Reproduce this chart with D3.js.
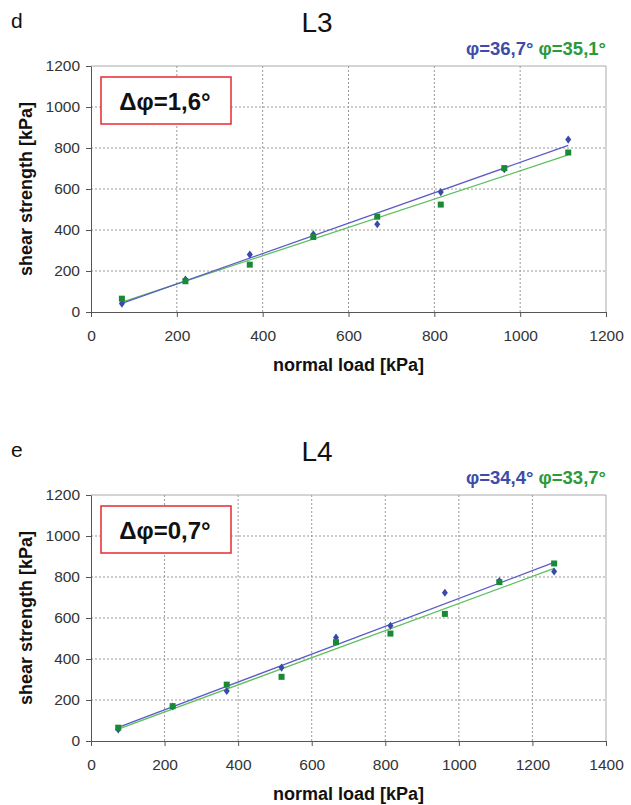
<!DOCTYPE html>
<html>
<head>
<meta charset="utf-8">
<script src="https://cdn.jsdelivr.net/npm/d3@7"></script>
<style>
  body { margin: 0; background: #fff; }
  svg { display: block; font-family: Arial, "Liberation Sans", sans-serif; }
</style>
</head>
<body>
<svg width="631" height="805"></svg>
<script>
(function () {
    'use strict';

    // L3 data
    const l3Load = [72, 220, 370, 518, 667, 815, 963, 1112];
    const l3Blue = [41, 158, 280, 379, 428, 585, 696, 841];
    const l3Green = [65, 150, 231, 366, 465, 524, 702, 778];
    const l3BlueFit = [[72, 42], [1112, 813]];
    const l3GreenFit = [[72, 48], [1112, 766]];

    // L4 data
    const l4Load = [74, 222, 369, 518, 666, 814, 962, 1110, 1259];
    const l4Blue = [56, 168, 244, 358, 505, 562, 723, 780, 827];
    const l4Green = [65, 170, 275, 313, 482, 524, 620, 775, 866];
    const l4BlueFit = [[74, 66], [1259, 871]];
    const l4GreenFit = [[74, 58], [1259, 842]];

    const yTicks = [0, 200, 400, 600, 800, 1000, 1200];
    const l3XTicks = [0, 200, 400, 600, 800, 1000, 1200];
    const l4XTicks = [0, 200, 400, 600, 800, 1000, 1200, 1400];

    const blueMark = '#3a4aa8';
    const greenMark = '#188a36';
    const blueLine = '#5a5ac8';
    const greenLine = '#5cc05c';

    // slightly tall diamond
    const tallDiamond = {
        draw(ctx, size) {
            const w = Math.sqrt(size) / 2, h = w * 1.35;
            ctx.moveTo(0, -h); ctx.lineTo(w, 0); ctx.lineTo(0, h); ctx.lineTo(-w, 0); ctx.closePath();
        }
    };

    const svg = d3.select('svg');

    const drawPanel = (cfg) => {
        const g = svg.append('g');
        const left = 91, right = 606;
        const top = cfg.top, bottom = cfg.top + 246;

        const x = d3.scaleLinear().domain([0, cfg.xMax]).range([left, right]);
        const y = d3.scaleLinear().domain([0, 1200]).range([bottom, top]);

        // letter + title
        g.append('text').attr('x', 11).attr('y', top - 38)
            .style('font-size', '21px').attr('fill', '#111').text(cfg.letter);
        g.append('text').attr('x', 317).attr('y', top - 34)
            .attr('text-anchor', 'middle').style('font-size', '28px').attr('fill', '#111').text(cfg.title);

        // grid
        const grid = g.append('g')
            .attr('stroke', '#999').attr('stroke-dasharray', '2,2').attr('stroke-width', 1);
        grid.selectAll('.gx').data(cfg.xTicks.slice(1, -1)).enter().append('line')
            .attr('x1', d => x(d)).attr('x2', d => x(d)).attr('y1', top).attr('y2', bottom);
        grid.selectAll('.gy').data(yTicks.slice(1, -1)).enter().append('line')
            .attr('y1', d => y(d)).attr('y2', d => y(d)).attr('x1', left).attr('x2', right);

        // frame top/right
        g.append('path')
            .attr('d', `M${left},${top}H${right}V${bottom}`)
            .attr('fill', 'none').attr('stroke', '#aaa');

        // axes
        const fmt = d3.format('d');
        const xAxis = g.append('g').attr('transform', `translate(0,${bottom})`)
            .call(d3.axisBottom(x).tickValues(cfg.xTicks).tickFormat(fmt).tickSize(5).tickPadding(13).tickSizeOuter(0));
        const yAxis = g.append('g').attr('transform', `translate(${left},0)`)
            .call(d3.axisLeft(y).tickValues(yTicks).tickFormat(fmt).tickSize(5).tickPadding(6).tickSizeOuter(0));
        [xAxis, yAxis].forEach(a => {
            a.select('.domain').attr('stroke', '#555');
            a.selectAll('.tick line').attr('stroke', '#555');
            a.selectAll('.tick text').attr('fill', '#333')
                .style('font-size', '15.5px').style('font-family', 'Arial, "Liberation Sans", sans-serif');
        });

        // axis labels
        g.append('text').attr('x', (left + right) / 2).attr('y', bottom + 59)
            .attr('text-anchor', 'middle').style('font-size', '18px').style('font-weight', 'bold')
            .attr('fill', '#111').text('normal load [kPa]');
        g.append('text')
            .attr('transform', `translate(32,${(top + bottom) / 2}) rotate(-90)`)
            .attr('text-anchor', 'middle').style('font-size', '18px').style('font-weight', 'bold')
            .attr('fill', '#111').text('shear strength [kPa]');

        // fit lines
        const line = d3.line().x(d => x(d[0])).y(d => y(d[1]));
        g.append('path').attr('d', line(cfg.greenFit))
            .attr('stroke', greenLine).attr('stroke-width', 1.3).attr('fill', 'none');
        g.append('path').attr('d', line(cfg.blueFit))
            .attr('stroke', blueLine).attr('stroke-width', 1.3).attr('fill', 'none');

        // markers
        const diamond = d3.symbol().type(tallDiamond).size(36);
        g.selectAll('.bm').data(cfg.load.map((v, i) => [v, cfg.blue[i]])).enter().append('path')
            .attr('d', diamond)
            .attr('transform', d => `translate(${x(d[0])},${y(d[1])})`)
            .attr('fill', blueMark);
        g.selectAll('.gm').data(cfg.load.map((v, i) => [v, cfg.green[i]])).enter().append('rect')
            .attr('x', d => x(d[0]) - 3).attr('y', d => y(d[1]) - 3)
            .attr('width', 6).attr('height', 6)
            .attr('fill', greenMark);

        // phi labels
        const phi = g.append('text').attr('x', right).attr('y', top - 11)
            .attr('text-anchor', 'end').style('font-size', '18.5px').style('font-weight', 'bold');
        phi.append('tspan').attr('fill', '#3d4ca6').text(cfg.phiBlue);
        phi.append('tspan').attr('fill', '#2a9a3a').text(' ' + cfg.phiGreen);

        // delta box
        g.append('rect').attr('x', 101).attr('y', top + 11)
            .attr('width', 130).attr('height', 47)
            .attr('fill', '#fff').attr('stroke', '#e8282e').attr('stroke-width', 1.5);
        g.append('text').attr('x', 165).attr('y', top + 44)
            .attr('text-anchor', 'middle').style('font-size', '24px').style('font-weight', 'bold')
            .attr('fill', '#111').text(cfg.delta);
    };

    drawPanel({
        top: 66, letter: 'd', title: 'L3', xMax: 1200, xTicks: l3XTicks,
        load: l3Load, blue: l3Blue, green: l3Green, blueFit: l3BlueFit, greenFit: l3GreenFit,
        phiBlue: 'φ=36,7°', phiGreen: 'φ=35,1°', delta: 'Δφ=1,6°'
    });
    drawPanel({
        top: 495, letter: 'e', title: 'L4', xMax: 1400, xTicks: l4XTicks,
        load: l4Load, blue: l4Blue, green: l4Green, blueFit: l4BlueFit, greenFit: l4GreenFit,
        phiBlue: 'φ=34,4°', phiGreen: 'φ=33,7°', delta: 'Δφ=0,7°'
    });
})();
</script>
</body>
</html>
